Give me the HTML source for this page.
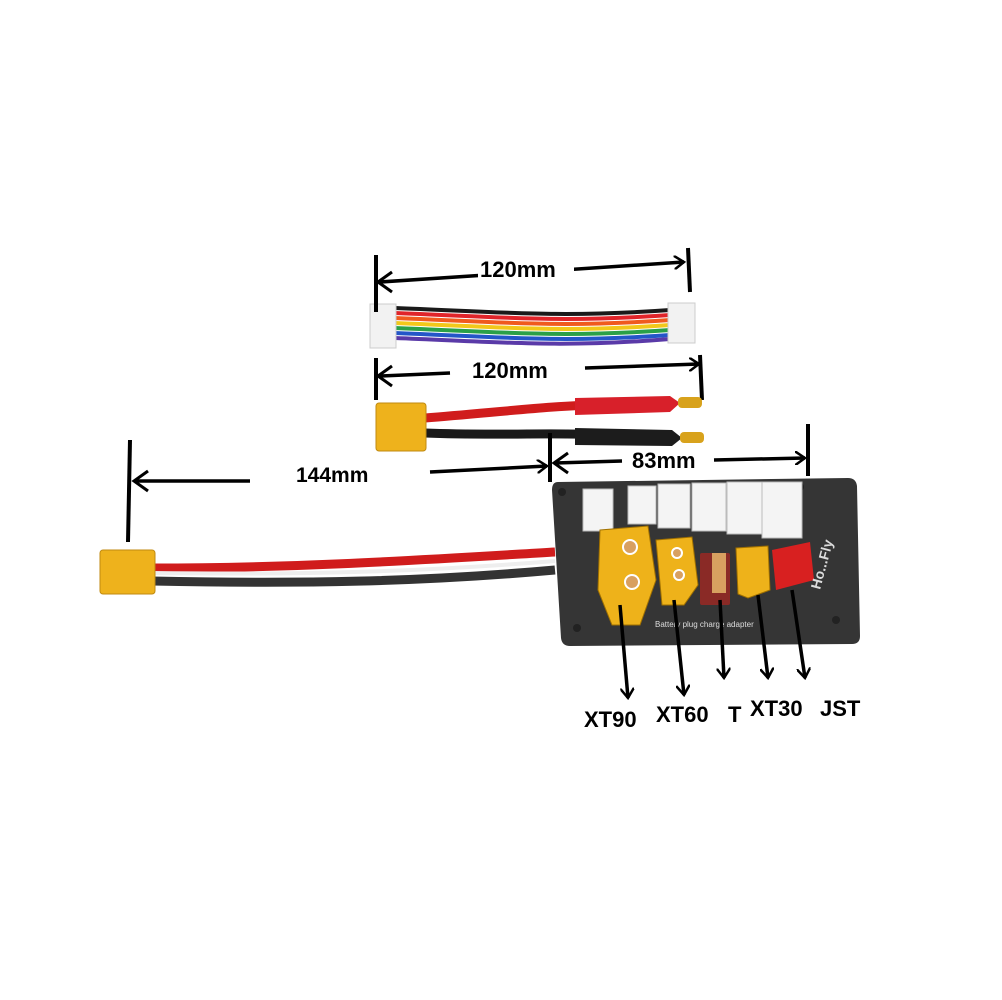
<!DOCTYPE html>
<html><head><meta charset="utf-8"><style>
html,body{margin:0;padding:0;background:#fff;}
svg{display:block}
text{font-family:"Liberation Sans",sans-serif;font-weight:bold;fill:#000}
</style></head><body>
<svg width="1002" height="1000" viewBox="0 0 1002 1000" xmlns="http://www.w3.org/2000/svg">
<defs>
<marker id="ah" markerWidth="12" markerHeight="14" refX="10" refY="7" orient="auto" markerUnits="userSpaceOnUse">
<path d="M0,0 L10,7 L0,14" fill="none" stroke="#000" stroke-width="2.5"/></marker>
</defs>
<rect width="1002" height="1000" fill="#fff"/>

<!-- balance cable -->
<g fill="none" stroke-width="4">
<path d="M395,308 C500,312 560,318 670,310" stroke="#1a1a1a"/>
<path d="M395,313 C500,317 560,323 670,315" stroke="#e0242a"/>
<path d="M395,318 C500,322 560,328 670,320" stroke="#f05a1e"/>
<path d="M395,323 C500,327 560,333 670,325" stroke="#f2c81a"/>
<path d="M395,328 C500,332 560,338 670,330" stroke="#2aa048"/>
<path d="M395,333 C500,337 560,343 670,335" stroke="#2456c8"/>
<path d="M395,338 C500,342 560,348 670,339" stroke="#5a3aa8"/>
</g>
<rect x="370" y="304" width="26" height="44" fill="#f2f2f2" stroke="#ccc"/>
<rect x="668" y="303" width="27" height="40" fill="#f2f2f2" stroke="#ccc"/>
<line x1="376" y1="255" x2="376" y2="312" stroke="#000" stroke-width="4"/>
<line x1="688" y1="248" x2="690" y2="292" stroke="#000" stroke-width="4"/>
<line x1="380" y1="282" x2="684" y2="262" stroke="#000" stroke-width="3.5" marker-end="url(#ah)" transform=""/>
<path d="M392,272 L378,282 L392,292" fill="none" stroke="#000" stroke-width="3"/>
<rect x="478" y="256" width="96" height="24" fill="#fff"/>
<text x="480" y="277" font-size="22">120mm</text>

<!-- charge lead -->
<line x1="376" y1="358" x2="376" y2="400" stroke="#000" stroke-width="4"/>
<line x1="700" y1="355" x2="702" y2="400" stroke="#000" stroke-width="4"/>
<line x1="380" y1="376" x2="450" y2="373" stroke="#000" stroke-width="3.5"/>
<path d="M392,366 L378,376 L392,386" fill="none" stroke="#000" stroke-width="3"/>
<line x1="585" y1="368" x2="699" y2="364" stroke="#000" stroke-width="3.5" marker-end="url(#ah)"/>
<text x="472" y="378" font-size="22">120mm</text>
<path d="M425,418 C500,412 560,405 600,405" stroke="#d01c1c" stroke-width="9" fill="none"/>
<path d="M425,433 C500,436 560,432 600,435" stroke="#1a1a1a" stroke-width="9" fill="none"/>
<path d="M575,398 L670,396 L680,403 L670,412 L575,415 Z" fill="#d8202a"/>
<path d="M575,428 L672,430 L682,438 L672,446 L575,445 Z" fill="#1c1c1c"/>
<rect x="678" y="397" width="24" height="11" rx="4" fill="#d8a21c"/>
<rect x="680" y="432" width="24" height="11" rx="4" fill="#d8a21c"/>
<rect x="376" y="403" width="50" height="48" rx="3" fill="#eeb21c" stroke="#c08a10"/>

<!-- 144mm -->
<line x1="130" y1="440" x2="128" y2="542" stroke="#000" stroke-width="4"/>
<line x1="135" y1="481" x2="250" y2="481" stroke="#000" stroke-width="3.5"/>
<path d="M148,471 L134,481 L148,491" fill="none" stroke="#000" stroke-width="3"/>
<line x1="430" y1="472" x2="547" y2="466" stroke="#000" stroke-width="3.5" marker-end="url(#ah)"/>
<text x="296" y="482" font-size="21">144mm</text>
<line x1="550" y1="433" x2="550" y2="482" stroke="#000" stroke-width="4"/>

<!-- 83mm -->
<line x1="808" y1="424" x2="808" y2="476" stroke="#000" stroke-width="4"/>
<line x1="555" y1="463" x2="622" y2="461" stroke="#000" stroke-width="3.5"/>
<path d="M568,453 L554,463 L568,473" fill="none" stroke="#000" stroke-width="3"/>
<line x1="714" y1="460" x2="805" y2="458" stroke="#000" stroke-width="3.5" marker-end="url(#ah)"/>
<text x="632" y="468" font-size="22">83mm</text>

<!-- left cable -->
<path d="M152,568 C300,568 420,560 555,552" stroke="#d01c1c" stroke-width="9" fill="none"/>
<path d="M152,581 C300,584 420,582 555,570" stroke="#333" stroke-width="9" fill="none"/>
<path d="M152,573 C300,575 420,572 555,561" stroke="#eee" stroke-width="4" fill="none"/>
<rect x="100" y="550" width="55" height="44" rx="3" fill="#eeb21c" stroke="#c08a10"/>

<!-- board -->
<path d="M558,482 L848,478 Q856,478 857,486 L860,636 Q860,644 852,644 L570,646 Q562,646 561,638 L552,490 Q552,482 558,482 Z" fill="#353535"/>
<g fill="#222"><circle cx="562" cy="492" r="4"/><circle cx="800" cy="487" r="4"/><circle cx="836" cy="620" r="4"/><circle cx="577" cy="628" r="4"/></g>
<g fill="#f4f4f4" stroke="#bbb">
<rect x="583" y="489" width="30" height="42"/>
<rect x="628" y="486" width="28" height="38"/>
<rect x="658" y="484" width="32" height="44"/>
<rect x="692" y="483" width="34" height="48"/>
<rect x="727" y="482" width="38" height="52"/>
<rect x="762" y="482" width="40" height="56"/>
</g>
<path d="M600,530 L648,526 L656,580 L640,625 L612,625 L598,590 Z" fill="#eeb21a" stroke="#a07000"/>
<circle cx="630" cy="547" r="7" fill="#d8a060" stroke="#fff" stroke-width="2"/>
<circle cx="632" cy="582" r="7" fill="#d8a060" stroke="#fff" stroke-width="2"/>
<path d="M656,540 L692,537 L698,585 L684,605 L662,605 Z" fill="#eeb21a" stroke="#a07000"/>
<circle cx="677" cy="553" r="5" fill="#d8a060" stroke="#fff" stroke-width="2"/>
<circle cx="679" cy="575" r="5" fill="#d8a060" stroke="#fff" stroke-width="2"/>
<rect x="700" y="553" width="30" height="52" rx="2" fill="#8a2a26"/>
<rect x="712" y="553" width="14" height="40" fill="#d8a060"/>
<path d="M736,548 L768,546 L770,590 L748,598 L738,594 Z" fill="#eeb21a" stroke="#a07000"/>
<path d="M772,550 L810,542 L814,580 L776,590 Z" fill="#d82020"/>
<text x="655" y="627" font-size="8" style="fill:#ddd;font-weight:normal">Battery plug charge adapter</text>
<text x="820" y="590" font-size="14" transform="rotate(-75 820 590)" style="fill:#ddd">Ho...Fly</text>

<!-- down arrows -->
<g stroke="#000" stroke-width="3.5" fill="none">
<line x1="620" y1="605" x2="628" y2="698" marker-end="url(#ah)"/>
<line x1="674" y1="600" x2="684" y2="695" marker-end="url(#ah)"/>
<line x1="720" y1="600" x2="724" y2="678" marker-end="url(#ah)"/>
<line x1="758" y1="595" x2="768" y2="678" marker-end="url(#ah)"/>
<line x1="792" y1="590" x2="805" y2="678" marker-end="url(#ah)"/>
</g>
<text x="584" y="727" font-size="22">XT90</text>
<text x="656" y="722" font-size="22">XT60</text>
<text x="728" y="722" font-size="22">T</text>
<text x="750" y="716" font-size="22">XT30</text>
<text x="820" y="716" font-size="22">JST</text>
</svg>
</body></html>
